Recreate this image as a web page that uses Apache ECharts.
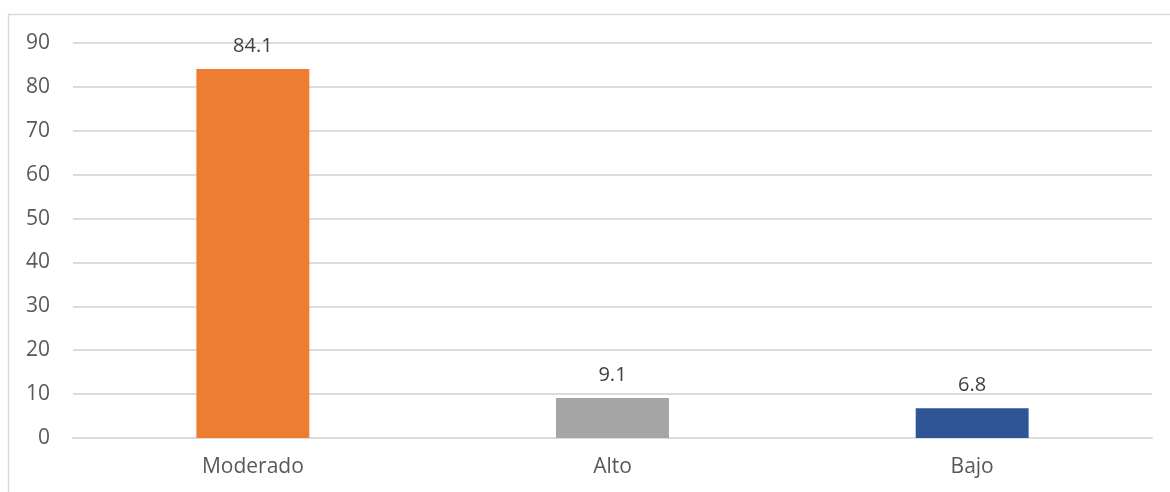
<!DOCTYPE html>
<html><head><meta charset="utf-8">
<script src="https://cdn.jsdelivr.net/npm/echarts@6/dist/echarts.min.js"></script>
<style>html,body{margin:0;padding:0;background:#fff}#c{width:1170px;height:492px}</style>
</head><body><div id="c"></div>
<script>
const categories = ["Moderado", "Alto", "Bajo"];
const values = [84.1, 9.1, 6.8];
const colors = ["#ED7D31", "#A5A5A5", "#2F5597"];
const yTicks = {min: 0, max: 90, interval: 10};

const chart = echarts.init(document.getElementById('c'), null, {renderer: 'canvas'});
const font = "'Open Sans', sans-serif";
chart.setOption({
  animation: false,
  backgroundColor: '#fff',
  graphic: [{type: 'rect', shape: {x: 8.5, y: 14.5, width: 1200, height: 500}, style: {fill: 'none', stroke: '#D9D9D9', lineWidth: 1.5}, silent: true, z: -1}],
  grid: {left: 73, right: 18, top: 43, bottom: 54},
  xAxis: {
    type: 'category', data: categories,
    axisLine: {show: true, lineStyle: {color: '#DCDCDC', width: 2}},
    axisTick: {show: false},
    axisLabel: {color: '#595959', fontSize: 21, fontFamily: font, margin: 19}
  },
  yAxis: {
    type: 'value', min: yTicks.min, max: yTicks.max, interval: yTicks.interval,
    axisLine: {show: false}, axisTick: {show: false},
    splitLine: {lineStyle: {color: '#DCDCDC', width: 2}},
    axisLabel: {color: '#595959', fontSize: 21, fontFamily: font, margin: 23}
  },
  series: [{
    type: 'bar', barWidth: '31.4%',
    data: values.map((v, i) => ({value: v, itemStyle: {color: colors[i]}})),
    label: {show: true, position: 'top', distance: 13, color: '#404040', fontSize: 20, fontFamily: font}
  }]
});
</script></body></html>
